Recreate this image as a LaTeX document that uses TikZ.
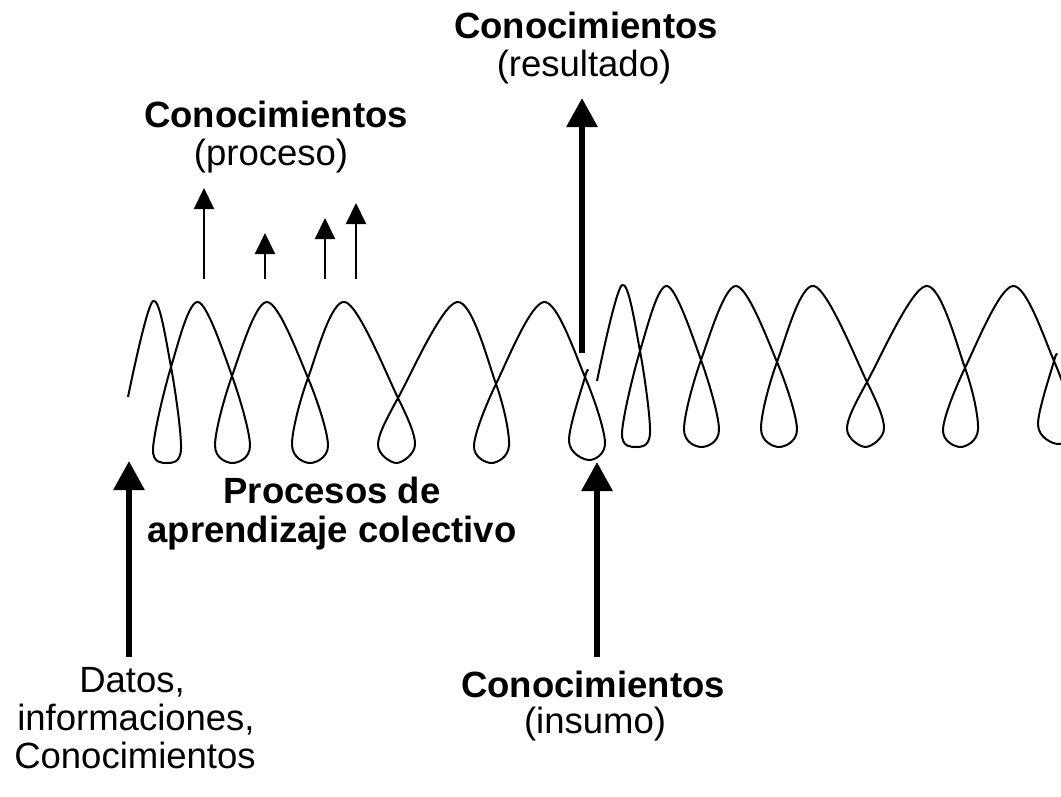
\documentclass[tikz,border=0pt]{standalone}
\usepackage{fontspec}
\setmainfont{Liberation Sans}
\usetikzlibrary{arrows.meta}
\begin{document}
\begin{tikzpicture}[x=1pt,y=-1pt,
  coilline/.style={line width=2pt, line join=round},
  bigarrow/.style={line width=6pt, -{Triangle[width=30pt,length=29pt]}},
  smallarrow/.style={line width=2pt, -{Triangle[width=20pt,length=21pt]}},
  lbl/.style={inner sep=0pt, anchor=base, font=\fontsize{36.5}{38}\selectfont},
  blbl/.style={inner sep=0pt, anchor=base, font=\fontsize{36.5}{38}\selectfont\bfseries},
  coil/.pic={
    \draw[coilline] plot[smooth, tension=0.55] coordinates {
      (128,397) (153,301)
      (171,367) (181,449) (167,463) (153,449) (171,367)
      (198,302)
      (232,376) (250,445.5) (232.5,463) (215,445.5) (232,376)
      (267,302)
      (308,378) (328,445) (310,463) (292,445) (308,378)
      (345,302)
      (398,398) (415,444.5) (396.5,463) (378,444.5) (398,398)
      (457,302)
      (496,384) (509,445.5) (491.5,463) (474,445.5) (496,384)
      (544,302)
      (585,377) (605,442) (589,460) (569,441) (585,377)
      (588,371)
    };
  }
]
\path[use as bounding box] (0,0) rectangle (1061,796);
\clip (0,0) rectangle (1061,796);

% coils
\pic at (0,0) {coil};
\pic at (469,-16) {coil};

% texts
\node[blbl] (res1) at (586,38) {Conocimientos};
\node[lbl]  (res2) at (584,76) {(resultado)};
\node[blbl] (pro1) at (276,127) {Conocimientos};
\node[lbl]  (pro2) at (271,165) {(proceso)};
\node[blbl] (apr1) at (332,503) {Procesos de};
\node[blbl] (apr2) at (332,542) {aprendizaje colectivo};
\node[lbl]  (dat1) at (132,692) {Datos,};
\node[lbl]  (dat2) at (136,730) {informaciones,};
\node[lbl]  (dat3) at (135,768) {Conocimientos};
\node[blbl] (ins1) at (593,697) {Conocimientos};
\node[lbl]  (ins2) at (595,733) {(insumo)};

% arrow end points
\coordinate (rA) at (582,353);
\coordinate (rB) at (582,98);
\coordinate (lA) at (129,657);
\coordinate (lB) at (129,461);
\coordinate (iA) at (597,657);
\coordinate (iB) at (597,462);
\coordinate (s1A) at (204,279); \coordinate (s1B) at (204,188);
\coordinate (s2A) at (265,279); \coordinate (s2B) at (265,233);
\coordinate (s3A) at (325,279); \coordinate (s3B) at (325,218);
\coordinate (s4A) at (356,279); \coordinate (s4B) at (356,203);

\draw[bigarrow] (rA) -- (rB);
\draw[bigarrow] (lA) -- (lB);
\draw[bigarrow] (iA) -- (iB);
\draw[smallarrow] (s1A) -- (s1B);
\draw[smallarrow] (s2A) -- (s2B);
\draw[smallarrow] (s3A) -- (s3B);
\draw[smallarrow] (s4A) -- (s4B);
\end{tikzpicture}
\end{document}
